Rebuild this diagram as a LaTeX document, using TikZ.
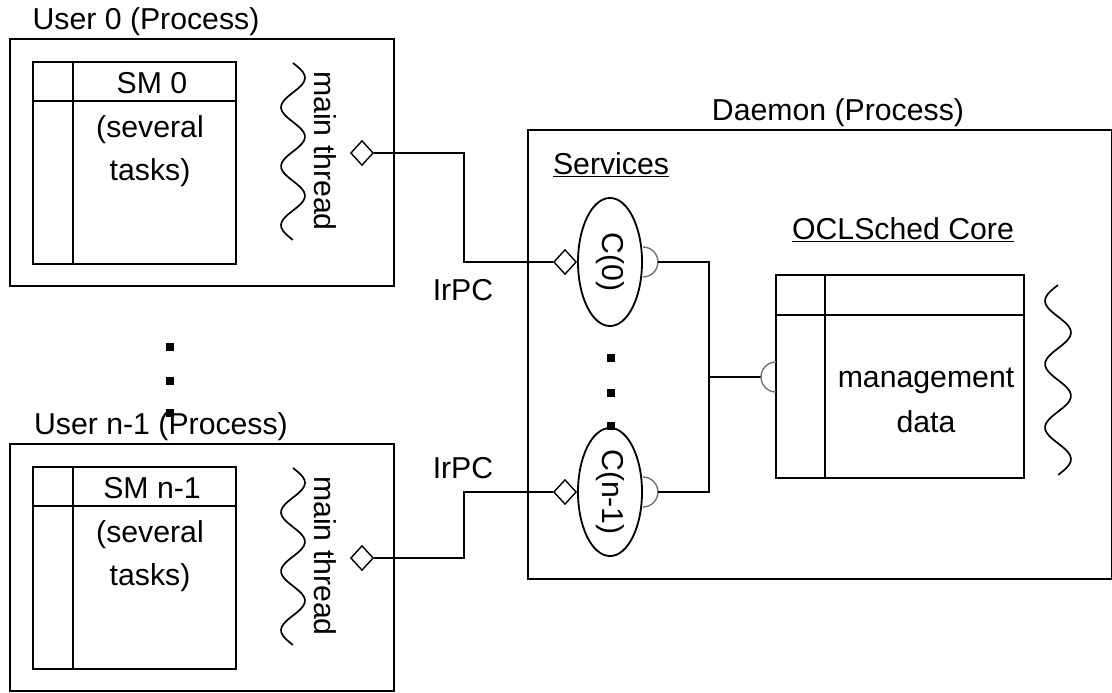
\documentclass[tikz,border=0pt]{standalone}
\usepackage{fontspec}
\setmainfont{Liberation Sans}
\usetikzlibrary{shapes.geometric}

\begin{document}
\begin{tikzpicture}[x=0.025cm,y=-0.025cm,line width=1.3pt,
    every node/.style={font=\fontsize{21.5}{26}\selectfont},
    port/.style={diamond,draw,fill=white,line width=1pt,inner sep=0pt,minimum width=0.57cm,minimum height=0.62cm},
    svc/.style={ellipse,draw,inner sep=0pt,minimum width=1.6cm,minimum height=3.2cm},
    sq/.style={rectangle,fill,inner sep=0pt,minimum size=0.22cm},
    sock/.style={black!55,line width=1pt},
    wave/.style={line width=1.2pt,smooth}]
  \useasboundingbox (0,0) rectangle (1112,692);
  % user processes
  \foreach \i/\dy/\nm/\lx in {0/0/0/146,1/405/n-1/161} {
    \node (ulab\i) at (\lx,{22+\dy}) {User \nm\ (Process)};
    \draw (10,{39+\dy}) rectangle (394,{286+\dy});
    \draw (33,{62+\dy}) rectangle (236,{264+\dy});
    \draw (73,{62+\dy}) -- (73,{264+\dy});
    \draw (33,{101+\dy}) -- (236,{101+\dy});
    \node (sm\i) at (152,{83+\dy}) {SM \nm};
    \node[align=center] (tasks\i) at (150,{151+\dy}) {(several\\[4.5pt]tasks)};
    \draw[wave] plot[domain=0:1,samples=60] ({293+12*sin(3*360*\x)},{63+\dy+177*\x});
    \node[rotate=-90] (thr\i) at (325,{151+\dy}) {main thread};
    \node[port] (up\i) at (362,{153+\dy}) {};
  }
  \foreach \j/\y in {1/347,2/381,3/413}
    \node[sq] (ud\j) at (170,\y) {};
  % daemon
  \draw (528,130) rectangle (1112,579);
  \node (dlab) at (838,113) {Daemon (Process)};
  \node (svc) at (611,165) {\underline{Services}};
  \node[svc] (c0) at (610,262) {};
  \node[svc] (c1) at (610,492) {};
  \node[rotate=-90] (c0t) at (c0) {C(0)};
  \node[rotate=-90] (c1t) at (c1) {C(n-1)};
  \foreach \j/\y in {1/358,2/393,3/426}
    \node[sq] (dd\j) at (611,\y) {};
  \node[port] (dp0) at (565,262) {};
  \node[port] (dp1) at (565,492) {};
  \node (ir0) at (463,290) {IrPC};
  \node (ir1) at (463,468) {IrPC};
  % IrPC links
  \draw (up0.east) -- ++(90,0) |- (dp0.west);
  \draw (up1.east) -- ++(90,0) |- (dp1.west);
  % sockets
  \draw[sock] (c0.east) ++(0,-15) arc[start angle=-90,end angle=90,radius=15];
  \draw[sock] (c1.east) ++(0,-15) arc[start angle=-90,end angle=90,radius=15];
  \path (c0.east) ++(15,0) coordinate (s0);
  \path (c1.east) ++(15,0) coordinate (s1);
  \coordinate (j) at (709,377);
  \coordinate (sc) at (761,377);
  \draw (s0) -| (j) |- (s1);
  \draw (j) -- (sc);
  % core
  \node (ocl) at (903,230) {\underline{OCLSched Core}};
  \draw (776,275) rectangle (1024,478);
  \draw (825,275) -- (825,478);
  \draw (776,315) -- (1024,315);
  \draw[sock] (776,362) arc[start angle=-90,end angle=-270,radius=15];
  \node[align=center] (mgmt) at (926,400) {management\\[6pt]data};
  \draw[wave] plot[domain=0:1,samples=60] ({1058-13*sin(3*360*\x)},{285+190*\x});
\end{tikzpicture}
\end{document}
